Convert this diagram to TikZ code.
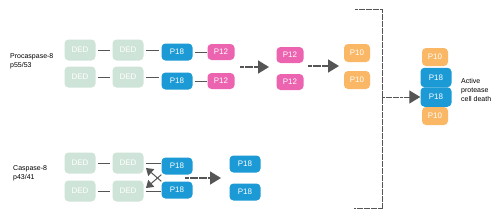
\documentclass[tikz,border=0pt]{standalone}
\usepackage{fontspec}
\setmainfont{Liberation Sans}
\usetikzlibrary{arrows.meta}

\definecolor{dedgreen}{HTML}{CFE4D8}
\definecolor{pblue}{HTML}{1C9AD5}
\definecolor{ppink}{HTML}{EC64B0}
\definecolor{porange}{HTML}{FAB866}
\definecolor{linkgray}{HTML}{555555}

\begin{document}
\begin{tikzpicture}[x=1pt,y=-1pt,font=\fontsize{7}{9}\selectfont,
  box/.style={rounded corners=4pt,text=white,inner sep=0pt,align=center,font=\fontsize{8}{9}\selectfont},
  ded/.style={box,fill=dedgreen,minimum width=31pt,minimum height=21pt},
  pb/.style={box,fill=pblue,minimum width=31pt,minimum height=17pt},
  pp/.style={box,fill=ppink,minimum width=27pt,minimum height=16pt},
  po/.style={box,fill=porange,minimum width=26pt,minimum height=18pt},
  label/.style={align=left,anchor=west,inner sep=0pt},
  link/.style={draw=linkgray,line width=1pt,shorten <=2pt,shorten >=2pt},
  flow/.style={draw=linkgray,line width=1.6pt,dash pattern=on 4pt off 0.6pt,
    -{Triangle[length=11pt,width=13pt]}}]
  \useasboundingbox (0,0) rectangle (500,220);

  % procaspase-8
  \node[label] (pro) at (10,61) {Procaspase-8\\p55/53};
  \node[ded] (d1a) at (80,50) {DED};
  \node[ded] (d2a) at (128,50) {DED};
  \node[pb] (s1a) at (177,52) {P18};
  \node[pp] (t1a) at (221,52) {P12};
  \node[ded] (d1b) at (80,77) {DED};
  \node[ded] (d2b) at (128,77) {DED};
  \node[pb] (s1b) at (177,81) {P18};
  \node[pp] (t1b) at (221,81) {P12};
  \draw[link] (d1a) -- (d2a);
  \draw[link] (d2a.east) -- (s1a.west |- d2a.east);
  \draw[link,shorten >=0pt] (s1a) -- (t1a);
  \draw[link] (d1b) -- (d2b);
  \draw[link] (d2b.east) -- (s1b.west |- d2b.east);
  \draw[link,shorten >=0pt] (s1b) -- (t1b);

  \coordinate (f1s) at (240,67);
  \coordinate (f1e) at (269,67);
  \draw[flow] (f1s) -- (f1e);
  \node[pp] (t2a) at (290,55) {P12};
  \node[pp] (t2b) at (290,82) {P12};
  \coordinate (f2s) at (308,66);
  \coordinate (f2e) at (339,66);
  \draw[flow] (f2s) -- (f2e);
  \node[po] (u1a) at (357,53) {P10};
  \node[po] (u1b) at (357,80) {P10};

  % bracket and active form
  \draw[draw=linkgray,line width=1pt,dash pattern=on 3pt off 0.5pt]
    (355,9) -- (382,9) -- (382,208) -- (354,208);
  \coordinate (br) at (382,97);
  \node[po] (a1) at (435,57) {P10};
  \node[pb,minimum height=19.5pt] (a2) at (436,77.5) {P18};
  \node[pb,minimum height=19.5pt] (a3) at (436,97) {P18};
  \node[po] (a4) at (435,116) {P10};
  \draw[flow,line width=1pt,dash pattern=on 3pt off 0.6pt] (br) -- (a3.west);
  \node[label] (act) at (461,90) {Active\\protease\\cell death};

  % caspase-8
  \node[label] (cas) at (13,173) {Caspase-8\\p43/41};
  \node[ded] (d3a) at (80,163) {DED};
  \node[ded] (d4a) at (128,163) {DED};
  \node[pb] (s3a) at (177,166) {P18};
  \node[ded] (d3b) at (80,191) {DED};
  \node[ded] (d4b) at (128,191) {DED};
  \node[pb] (s3b) at (177,190) {P18};
  \draw[link] (d3a) -- (d4a);
  \draw[link,shorten >=0pt] (d4a.east) -- (s3a.west |- d4a.east);
  \draw[link] (d3b) -- (d4b);
  \draw[link,shorten >=0pt] (d4b.east) -- (s3b.west |- d4b.east);
  \coordinate (xb) at (146,188);
  \coordinate (xt) at (146,168);
  \draw[link,shorten <=0pt,shorten >=0pt,-{Triangle[length=7pt,width=9pt]}] (s3a.south west) -- (xb);
  \draw[link,shorten <=0pt,shorten >=0pt,-{Triangle[length=7pt,width=9pt]}] (s3b.north west) -- (xt);
  \coordinate (f3s) at (185,178);
  \coordinate (f3e) at (221,178);
  \draw[flow] (f3s) -- (f3e);
  \node[pb] (s4a) at (245,164) {P18};
  \node[pb] (s4b) at (245,192) {P18};
\end{tikzpicture}
\end{document}
